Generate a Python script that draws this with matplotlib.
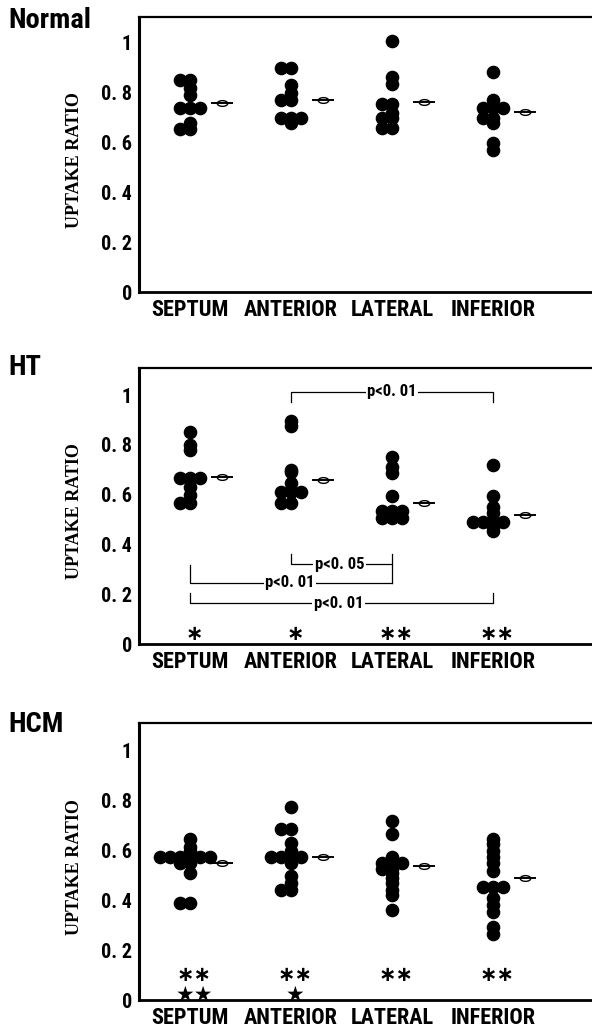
import matplotlib
matplotlib.use("Agg")
import matplotlib.pyplot as plt
import numpy as np
from matplotlib import font_manager
from matplotlib.path import Path

# categories / ticks
segments = ["SEPTUM", "ANTERIOR", "LATERAL", "INFERIOR"]
ytick_vals = [0, 0.2, 0.4, 0.6, 0.8, 1.0]
ytick_text = ["0", "0. 2", "0. 4", "0. 6", "0. 8", "1"]

# Normal
normal_septum = [0.85, 0.85, 0.82, 0.79, 0.74, 0.74, 0.74, 0.68, 0.655, 0.655]
normal_anterior = [0.90, 0.90, 0.83, 0.80, 0.77, 0.77, 0.70, 0.70, 0.70, 0.68]
normal_lateral = [1.01, 0.865, 0.835, 0.755, 0.755, 0.72, 0.70, 0.70, 0.66, 0.66]
normal_inferior = [0.885, 0.77, 0.74, 0.74, 0.74, 0.70, 0.70, 0.68, 0.60, 0.57]
normal_means = [0.758, 0.771, 0.764, 0.722]

# HT
ht_septum = [0.85, 0.80, 0.78, 0.665, 0.665, 0.665, 0.63, 0.60, 0.565, 0.565]
ht_anterior = [0.895, 0.875, 0.70, 0.69, 0.645, 0.61, 0.61, 0.61, 0.565, 0.565]
ht_lateral = [0.75, 0.71, 0.685, 0.595, 0.535, 0.535, 0.535, 0.505, 0.505, 0.505]
ht_inferior = [0.72, 0.595, 0.55, 0.525, 0.49, 0.49, 0.49, 0.49, 0.47, 0.455]
ht_means = [0.672, 0.659, 0.567, 0.519]
ht_marks = ["∗", "∗", "∗∗", "∗∗"]

# HCM
hcm_septum = [0.645, 0.615, 0.60, 0.575, 0.575, 0.575, 0.575, 0.575, 0.575,
              0.55, 0.55, 0.51, 0.39, 0.39]
hcm_anterior = [0.775, 0.685, 0.685, 0.63, 0.60, 0.575, 0.575, 0.575, 0.575,
                0.55, 0.50, 0.47, 0.44, 0.44]
hcm_lateral = [0.72, 0.665, 0.575, 0.55, 0.55, 0.55, 0.525, 0.525, 0.51,
               0.49, 0.47, 0.44, 0.42, 0.36]
hcm_inferior = [0.645, 0.625, 0.60, 0.575, 0.55, 0.52, 0.455, 0.455, 0.455,
                0.41, 0.38, 0.355, 0.295, 0.265]
hcm_means = [0.551, 0.575, 0.538, 0.489]
hcm_marks = ["∗∗", "∗∗", "∗∗", "∗∗"]
hcm_stars = ["★★", "★", "", ""]

# HT comparisons: (from, to, label)
ht_pairs = [(2, 4, "p<0. 01"), (2, 3, "p<0. 05"), (1, 3, "p<0. 01"), (1, 4, "p<0. 01")]

# --- fonts ---
fl = font_manager.fontManager.ttflist
names = {f.name for f in fl}
if "Liberation Sans Narrow" in names:
    COND = dict(family="Liberation Sans Narrow", weight="bold")
    k = 1.0
elif "Roboto Condensed" in names:
    COND = dict(family="Roboto Condensed", weight="bold")
    k = 1.0
elif any(f.name == "DejaVu Sans" and f.stretch == "condensed" for f in fl):
    COND = dict(family="DejaVu Sans", stretch="condensed", weight="bold")
    k = 0.92
else:
    COND = dict(family="DejaVu Sans", weight="bold")
    k = 0.8

W, H = 592, 1028
fig = plt.figure(figsize=(W / 100, H / 100), dpi=100)

LEFT, RIGHT = 139, 610
XPX = 101.0           # px per category
YPX = 249.0           # px per 1.0 of ratio
x = np.arange(1, 5)

circ = Path.unit_circle()
ellipse = Path(circ.vertices * [1.0, 0.55], circ.codes)


def swarm(vals, step=0.1, thr=0.008):
    placed, offs = [], []
    for v in vals:
        for c in [0, -1, 1, -2, 2, -3, 3, -4, 4]:
            if all(abs(v - pv) >= thr for pc, pv in placed if pc == c):
                break
        placed.append((c, v))
        offs.append(c * step)
    return np.array(offs)


def make_axes(top, bottom):
    ax = fig.add_axes([LEFT / W, 1 - bottom / H, (RIGHT - LEFT) / W, (bottom - top) / H])
    ax.set_xlim(1 - (190 - LEFT) / XPX, 1 - (190 - LEFT) / XPX + (RIGHT - LEFT) / XPX)
    ax.set_ylim(0, (bottom - top) / YPX)
    ax.spines["left"].set_linewidth(2.2)
    ax.spines["bottom"].set_linewidth(2.0)
    ax.spines["top"].set_linewidth(1.6)
    ax.spines["right"].set_visible(False)
    ax.set_yticks(ytick_vals)
    ax.set_yticklabels(ytick_text, fontsize=14.5 * k, **COND)
    ax.set_xticks(x)
    ax.set_xticklabels(segments, fontsize=16 * k, **COND)
    ax.tick_params(length=0)
    ax.tick_params(axis="y", pad=5)
    ax.tick_params(axis="x", pad=5)
    ax.set_ylabel("UPTAKE RATIO", family="Liberation Serif", weight="bold",
                  fontsize=13, va="center")
    ax.yaxis.set_label_coords(-0.138, 0.48)
    return ax


def draw_group(ax, groups, means):
    for xi, vals, m in zip(x, groups, means):
        vals = np.array(vals)
        ax.plot(xi + swarm(vals), vals, "o", ms=8.8, color="black", mec="black", zorder=3)
        ax.plot([xi + 0.32], [m], marker=ellipse, ms=7.5, mfc="white", mec="black",
                mew=1.0, ls="none", zorder=3)
        ax.plot([xi + 0.22, xi + 0.42], [m, m], color="black", lw=1.4, zorder=4)


def title(text, ypx):
    fig.text(8 / W, 1 - ypx / H, text, fontsize=20.5 * k, va="center", ha="left", **COND)


def marks(ax, labels, y, extra=None):
    # significance marks under each segment; a second row (stars) goes in the same text
    extra = extra or [""] * len(labels)
    for xi, lab, ex in zip(x, labels, extra):
        s = lab + ("\n" + ex if ex else "")
        ax.text(xi + 0.04, y, s, ha="center", va="top", ma="center",
                fontsize=15, weight="bold", family="DejaVu Sans", linespacing=1.0)


# ---- Normal ----
ax1 = make_axes(17, 292)
draw_group(ax1, [normal_septum, normal_anterior, normal_lateral, normal_inferior], normal_means)
title("Normal", 21)

# ---- HT ----
ax2 = make_axes(368, 644)
draw_group(ax2, [ht_septum, ht_anterior, ht_lateral, ht_inferior], ht_means)
title("HT", 367)
marks(ax2, ht_marks, 0.080)

lw = 0.9
bk = dict(color="black", lw=lw)
tb = dict(facecolor="white", edgecolor="none", pad=1.0)
psize = 12 * k
# top bracket ANTERIOR - INFERIOR (drawn downward)
a, b, lab = ht_pairs[0]
ax2.plot([a, a, b, b], [0.97, 1.013, 1.013, 0.97], **bk)
ax2.text((a + b) / 2, 1.013, lab, ha="center", va="center", fontsize=psize, bbox=tb, **COND)
# ANTERIOR - LATERAL
a, b, lab = ht_pairs[1]
ax2.plot([a, a, b], [0.363, 0.32, 0.32], **bk)
ax2.plot([b, b], [0.363, 0.246], **bk)
ax2.text(2.48, 0.32, lab, ha="center", va="center", fontsize=psize, bbox=tb, **COND)
# SEPTUM - LATERAL
a, b, lab = ht_pairs[2]
ax2.plot([a, a, b], [0.316, 0.246, 0.246], **bk)
ax2.text(1.99, 0.246, lab, ha="center", va="center", fontsize=psize, bbox=tb, **COND)
# SEPTUM - INFERIOR
a, b, lab = ht_pairs[3]
ax2.plot([a, a, b, b], [0.205, 0.163, 0.163, 0.205], **bk)
ax2.text(2.47, 0.163, lab, ha="center", va="center", fontsize=psize, bbox=tb, **COND)

# ---- HCM ----
ax3 = make_axes(723, 1000)
draw_group(ax3, [hcm_septum, hcm_anterior, hcm_lateral, hcm_inferior], hcm_means)
title("HCM", 725)
marks(ax3, hcm_marks, 0.140, hcm_stars)

fig.savefig("out.png", dpi=100)
